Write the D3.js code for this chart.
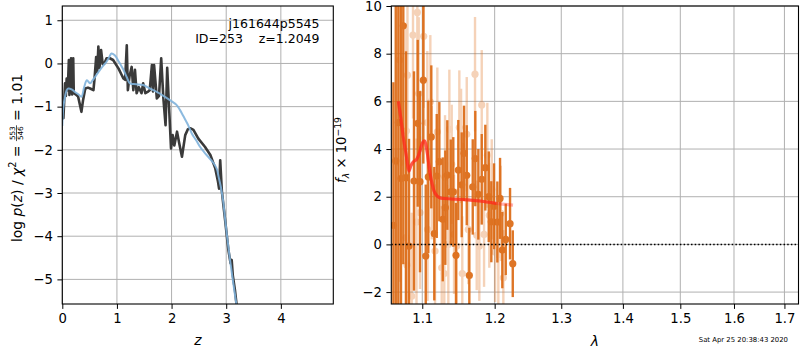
<!DOCTYPE html>
<html><head><meta charset="utf-8">
<script src="https://cdn.jsdelivr.net/npm/d3@7"></script>
<style>
body{margin:0;background:#fff}
svg text{font-family:"DejaVu Sans",sans-serif}
</style>
</head><body>
<svg id="c" width="800" height="350"></svg>
<script>
// ---------- Left panel: log p(z) ----------
const pzZ = [0.00,0.02,0.05,0.065,0.08,0.10,0.12,0.13,0.16,0.18,0.20,0.21,0.25,0.29,0.33,0.35,0.38,0.42,0.47,0.51,0.57,0.59,0.62,0.64,0.66,0.68,0.71,0.74,0.77,0.81,0.87,0.93,1.03,1.08,1.12,1.15,1.18,1.20,1.23,1.27,1.30,1.33,1.36,1.40,1.45,1.48,1.52,1.56,1.60,1.64,1.66,1.68,1.73,1.77,1.81,1.85,1.89,1.92,1.95,1.99,2.02,2.05,2.10,2.14,2.19,2.25,2.30,2.34,2.40,2.49,2.61,2.71,2.80,2.85,2.87,2.89,2.92,2.95,2.98,3.04,3.08,3.10,3.12,3.16,3.20];
const pzLogp = [-1.16,-1.27,-0.46,-0.75,-0.35,-0.62,0.08,-0.73,0.12,-0.72,0.12,-0.69,-0.72,-0.77,-1.0,-1.12,-0.85,-0.58,-0.56,-0.58,-0.62,-0.35,0.15,-0.2,0.39,-0.1,0.31,-0.02,0.0,0.12,0.12,0.08,-0.12,-0.25,-0.35,-0.38,0.42,-0.62,-0.3,-0.08,-0.62,-0.15,-0.69,-0.55,-0.69,-0.46,-0.69,-0.66,-0.62,-0.04,-0.65,-0.04,-0.81,-0.75,0.12,-0.81,-1.43,-0.1,-0.9,-1.97,-1.66,-1.9,-1.58,-1.85,-2.16,-1.66,-1.52,-1.5,-1.54,-1.74,-1.93,-2.12,-2.43,-2.74,-2.9,-2.24,-2.95,-3.3,-3.63,-4.32,-4.63,-4.55,-4.9,-5.25,-5.7];
const priorZ = [0.00,0.02,0.05,0.08,0.11,0.17,0.23,0.30,0.35,0.40,0.45,0.51,0.55,0.60,0.69,0.75,0.81,0.86,0.90,0.96,1.03,1.12,1.18,1.24,1.35,1.48,1.60,1.73,1.85,1.97,2.09,2.15,2.22,2.30,2.37,2.45,2.52,2.64,2.77,2.83,2.86,2.90,2.94,2.98,3.01,3.07,3.13,3.20];
const priorLogp = [-1.45,-1.0,-0.77,-0.62,-0.58,-0.6,-0.66,-0.72,-0.77,-0.55,-0.39,-0.46,-0.4,-0.31,-0.15,-0.05,0.04,0.15,0.23,0.19,0.05,-0.15,-0.32,-0.46,-0.48,-0.5,-0.58,-0.66,-0.75,-0.85,-0.96,-1.07,-1.23,-1.42,-1.62,-1.78,-1.93,-2.12,-2.31,-2.45,-2.62,-2.85,-3.15,-3.6,-3.94,-4.55,-5.09,-5.7];
const leftXTicks = [0,1,2,3,4];
const leftYTicks = [-5,-4,-3,-2,-1,0,1];
const titleLines = ["j161644p5545", "ID=253    z=1.2049"];

// ---------- Right panel: spectrum ----------
const darkLam = [1.0625,1.0655,1.0688,1.0722,1.0752,1.0787,1.0826,1.0891,1.0940,1.0970,1.1014,1.1046,1.1080,1.1120,1.1160,1.1193,1.1228,1.1274,1.1309,1.1336,1.1383,1.1418,1.1455,1.1487,1.1534,1.1566,1.1604,1.1640,1.1688,1.1724,1.1767,1.1815,1.1866,1.1915,1.1952,1.1991,1.2039,1.2078,1.2111,1.2161,1.2224,1.2264];
const darkFlux = [0.8,3.5,5.11,2.76,9.17,2.8,-0.07,2.66,5.08,2.63,6.89,-0.49,2.83,4.51,0.45,2.87,3.47,1.05,1.54,2.91,2.2,2.2,-0.46,3.12,2.5,3.82,2.9,-1.3,2.41,3.6,2.1,2.73,3.22,2.0,0.95,1.6,0.94,1.93,-0.24,0.21,0.87,-0.81];
const darkErr = [6.0,9,9,9,10,5.3,4.5,4.6,3.5,3.8,3.5,3.0,3.2,3.0,2.8,2.6,2.5,2.6,2.4,2.3,2.2,2.3,2.2,2.1,2.2,2.0,2.1,2.0,2.0,2.0,1.9,1.9,1.8,1.9,1.7,1.8,1.7,1.7,1.6,1.5,1.5,1.4];
const lightLam = [1.0706,1.0709,1.0787,1.0791,1.0800,1.0806,1.0861,1.0878,1.0924,1.0935,1.0953,1.0970,1.1019,1.1067,1.1070,1.1107,1.1126,1.1170,1.1201,1.1260,1.1295,1.1305,1.1350,1.1364,1.1396,1.1428,1.1465,1.1501,1.1525,1.1542,1.1604,1.1626,1.1720,1.1744,1.1781,1.1815,1.1848,1.1895,1.1923,1.1958,1.2006,1.2053,1.2088,1.2126];
const lightFlux = [7.73,3.43,0.28,4.76,-0.87,7.1,-2.17,8.78,0.94,9.73,6.33,1.33,8.73,5.11,0.63,5.98,3.01,-0.28,4.72,-0.98,-1.22,2.82,0.0,4.83,3.36,0.42,-0.07,4.9,4.13,-1.22,4.62,0.63,7.14,0.38,-0.07,5.85,0.42,3.74,1.22,2.31,-0.32,-0.42,1.3,-1.4];
const lightErr = [5,5,4.5,4.5,4,4,3.5,3.5,3.5,3.5,3.2,3.2,3,3,3,2.8,2.8,2.8,2.7,2.6,2.6,2.6,2.5,2.5,2.5,2.5,2.4,2.4,2.4,2.4,2.4,2.3,2.4,2.3,2.3,2.3,2.2,2.2,2.2,2.1,2.1,2.1,2.0,2.0];
const modelLam = [1.0688,1.0720,1.0752,1.0787,1.0826,1.0850,1.0881,1.0926,1.0970,1.1004,1.1031,1.1058,1.1093,1.1130,1.1170,1.1228,1.1328,1.1555,1.1791,1.2025,1.2268];
const modelFlux = [6.0,5.3,4.5,3.8,3.08,3.3,3.46,3.57,3.92,4.27,4.34,4.0,3.2,2.55,2.15,1.96,1.92,1.88,1.82,1.72,1.65];
const modelCut = 1.21;
const rightXTicks = [1.1,1.2,1.3,1.4,1.5,1.6,1.7];
const rightYTicks = [-2,0,2,4,6,8,10];
const dateText = "Sat Apr 25 20:38:43 2020";

// ---------- drawing ----------
const svg = d3.select("#c");
const FS = 13.2, GRID = "#b0b0b0";
const fmtMinus = s => String(s).replace("-", "\u2212");

const L = {x0:62.3, x1:333.3, y0:6, y1:304};
const R = {x0:391.3, x1:798.5, y0:6, y1:304};
const xL = d3.scaleLinear().domain([0,4.96]).range([L.x0,L.x1]);
const yL = d3.scaleLinear().domain([-5.57,1.33]).range([L.y1,L.y0]);
const xR = d3.scaleLog().domain([1.0598,1.729]).range([R.x0,R.x1]);
const yR = d3.scaleLinear().domain([-2.5,10]).range([R.y1,R.y0]);

const defs = svg.append("defs");
defs.append("clipPath").attr("id","clipL").append("rect").attr("x",L.x0).attr("y",L.y0).attr("width",L.x1-L.x0).attr("height",L.y1-L.y0);
defs.append("clipPath").attr("id","clipR").append("rect").attr("x",R.x0).attr("y",R.y0).attr("width",R.x1-R.x0).attr("height",R.y1-R.y0);

function grid(P, xs, ys, xt, yt){
  const g = svg.append("g").attr("stroke",GRID).attr("stroke-width",1);
  xt.forEach(t=>g.append("line").attr("x1",xs(t)).attr("x2",xs(t)).attr("y1",P.y0).attr("y2",P.y1));
  yt.forEach(t=>g.append("line").attr("y1",ys(t)).attr("y2",ys(t)).attr("x1",P.x0).attr("x2",P.x1));
}
function axes(P, xs, ys, xt, yt, xfmt, yfmt){
  const gx = svg.append("g").attr("transform",`translate(0,${P.y1})`)
    .call(d3.axisBottom(xs).tickValues(xt).tickFormat(xfmt).tickSize(4.9).tickPadding(4.8).tickSizeOuter(0));
  const gy = svg.append("g").attr("transform",`translate(${P.x0},0)`)
    .call(d3.axisLeft(ys).tickValues(yt).tickFormat(yfmt).tickSize(4.9).tickPadding(4.6).tickSizeOuter(0));
  [gx,gy].forEach(g=>{
    g.select(".domain").remove();
    g.selectAll("text").attr("font-size",FS).attr("font-family","DejaVu Sans").attr("fill","#000");
    g.selectAll("line").attr("stroke","#000").attr("stroke-width",1);
  });
  svg.append("rect").attr("x",P.x0).attr("y",P.y0).attr("width",P.x1-P.x0).attr("height",P.y1-P.y0)
    .attr("fill","none").attr("stroke","#000").attr("stroke-width",1.1);
}

// ---- Left ----
grid(L, xL, yL, leftXTicks, leftYTicks);
const gL = svg.append("g").attr("clip-path","url(#clipL)");
gL.append("path").datum(d3.range(pzZ.length))
  .attr("d", d3.line().x(i=>xL(pzZ[i])).y(i=>yL(pzLogp[i])))
  .attr("fill","none").attr("stroke","#3a3a3a").attr("stroke-width",2.6).attr("stroke-linejoin","round");
gL.append("path").datum(d3.range(priorZ.length))
  .attr("d", d3.line().curve(d3.curveCatmullRom).x(i=>xL(priorZ[i])).y(i=>yL(priorLogp[i])))
  .attr("fill","none").attr("stroke","#7fb3dc").attr("stroke-width",2).attr("opacity",0.9);
axes(L, xL, yL, leftXTicks, leftYTicks, d=>fmtMinus(d), d=>fmtMinus(d));
titleLines.forEach((t,i)=>svg.append("text").attr("x",319.5).attr("y",28+i*14.8)
  .attr("text-anchor","end").attr("font-size",12.5).style("white-space","pre").text(t));

// ---- Right ----
grid(R, xR, yR, rightXTicks, rightYTicks);
const gR = svg.append("g").attr("clip-path","url(#clipR)");
const ORANGE = "#dc6a14";
function errSeries(lam, flux, err, op){
  const g = gR.append("g").attr("opacity",op);
  lam.forEach((l,i)=>{
    g.append("line").attr("x1",xR(l)).attr("x2",xR(l)).attr("y1",yR(flux[i]-err[i])).attr("y2",yR(flux[i]+err[i]))
      .attr("stroke",ORANGE).attr("stroke-width",2.4);
  });
  lam.forEach((l,i)=>{
    g.append("circle").attr("cx",xR(l)).attr("cy",yR(flux[i])).attr("r",3.6).attr("fill",ORANGE);
  });
}
errSeries(lightLam, lightFlux, lightErr, 0.3);
errSeries(darkLam, darkFlux, darkErr, 0.92);
gR.append("line").attr("x1",R.x0).attr("x2",R.x1).attr("y1",yR(0)).attr("y2",yR(0))
  .attr("stroke","#000").attr("stroke-width",1.5).attr("stroke-dasharray","1.5,2.2");
const mline = d3.line().curve(d3.curveCatmullRom).x(i=>xR(modelLam[i])).y(i=>yR(modelFlux[i]));
const allIdx = d3.range(modelLam.length);
gR.append("path").datum(allIdx).attr("d",mline).attr("fill","none").attr("stroke","#ff2020")
  .attr("stroke-width",3.2).attr("opacity",0.35);
gR.append("path").datum(allIdx.filter(i=>modelLam[i]<=modelCut)).attr("d",mline).attr("fill","none").attr("stroke","#ff2a1a")
  .attr("stroke-width",3).attr("opacity",0.65);
axes(R, xR, yR, rightXTicks, rightYTicks, d=>d3.format(".1f")(d), d=>fmtMinus(d));

// ---- Axis labels ----
svg.append("text").attr("x",(L.x0+L.x1)/2).attr("y",345).attr("text-anchor","middle")
  .attr("font-size",13.9).attr("font-style","italic").text("z");
svg.append("text").attr("x",(R.x0+R.x1)/2).attr("y",346).attr("text-anchor","middle")
  .attr("font-size",13.9).attr("font-style","italic").text("λ");
svg.append("text").attr("x",788).attr("y",342).attr("text-anchor","end").attr("font-size",6.9).text(dateText);

// rotated math labels
function mathLabel(bx, cy, pieces, fs){
  const outer = svg.append("g").attr("transform",`translate(${bx},${cy}) rotate(-90)`);
  const g = outer.append("g");
  let x = 0;
  pieces.forEach(p=>{
    if(p.frac){
      const s = fs*p.scale;
      const n = g.append("text").attr("font-size",s).attr("text-anchor","middle").text(p.frac[0]);
      const d = g.append("text").attr("font-size",s).attr("text-anchor","middle").text(p.frac[1]);
      const w = Math.max(n.node().getComputedTextLength(), d.node().getComputedTextLength()) + 2;
      const axis = -fs*0.36;
      n.attr("x",x+w/2).attr("y",axis-1.6);
      d.attr("x",x+w/2).attr("y",axis+1.6+s*0.73);
      g.append("line").attr("x1",x).attr("x2",x+w).attr("y1",axis).attr("y2",axis).attr("stroke","#000").attr("stroke-width",0.7);
      x += w;
    } else {
      const s = fs*(p.scale||1);
      const t = g.append("text").attr("x",x).attr("y",p.dy||0).attr("font-size",s)
        .attr("font-style",p.it?"italic":"normal").style("white-space","pre").text(p.t);
      x += t.node().getComputedTextLength();
    }
  });
  g.attr("transform",`translate(${-x/2},0)`);
}
mathLabel(21.5, 158, [
  {t:"log "},{t:"p",it:true},{t:"("},{t:"z",it:true},{t:") / "},{t:"χ",it:true},
  {t:"2",scale:0.7,dy:-5.5},{t:" = "},{frac:["553","546"],scale:0.52},{t:" = 1.01"}
], 13.9);
mathLabel(346, 150, [
  {t:"f",it:true},{t:"λ",it:true,scale:0.7,dy:3},{t:" × 10"},{t:"−19",scale:0.7,dy:-5.5}
], 13.2);
</script>
</body></html>
